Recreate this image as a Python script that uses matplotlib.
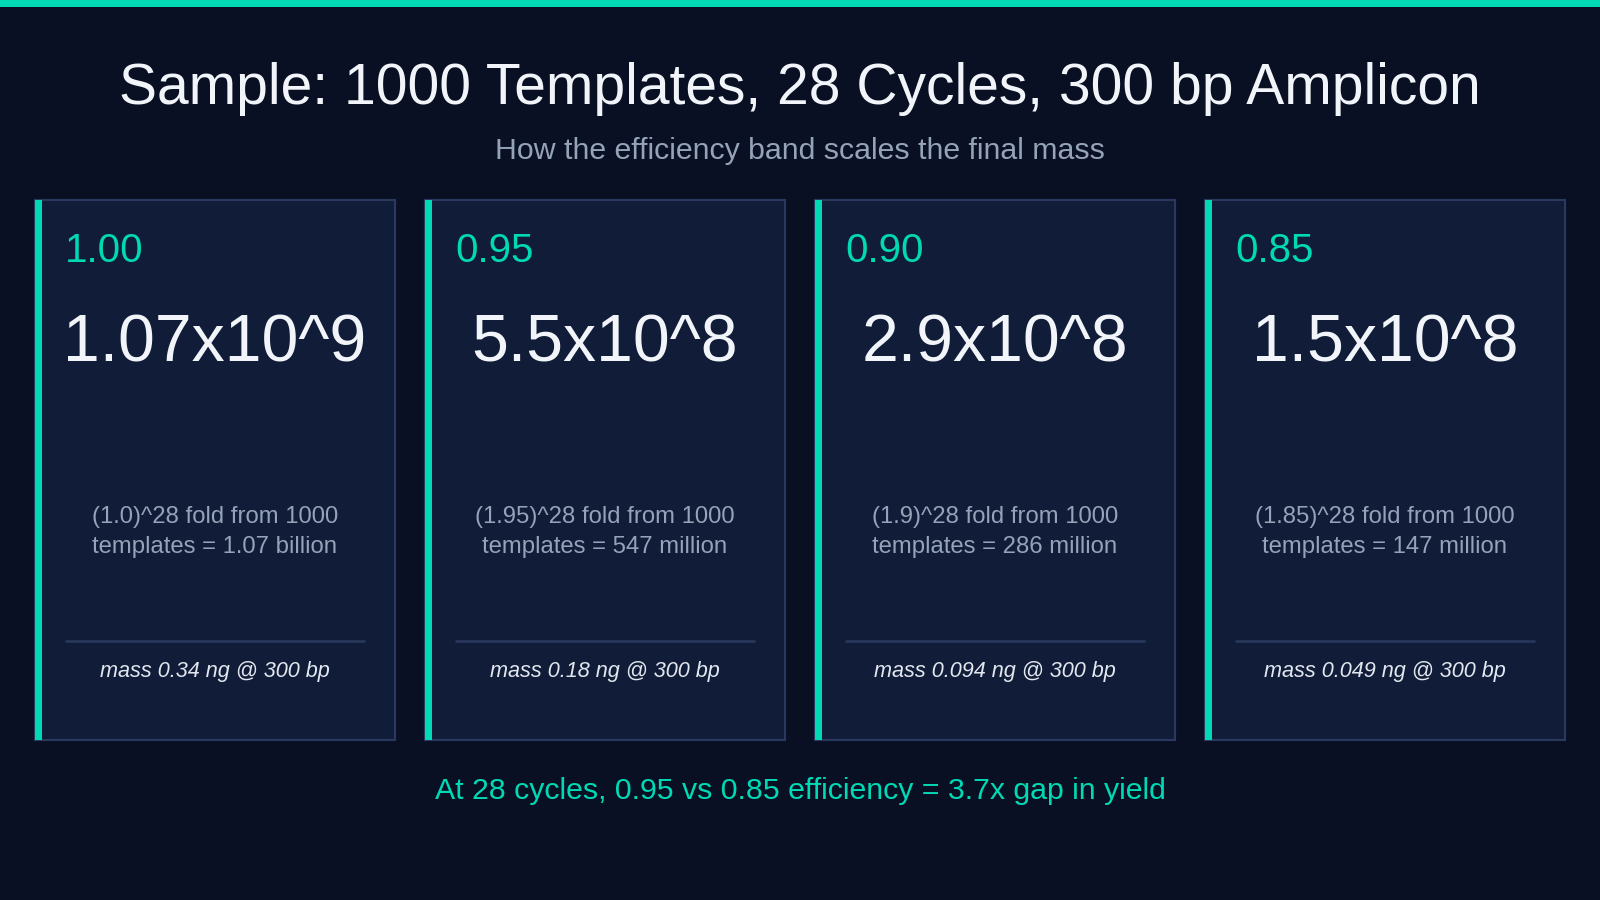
import matplotlib
matplotlib.use("Agg")
import matplotlib.pyplot as plt
from matplotlib.patches import Rectangle

# ---- data ----
efficiency = ["1.00", "0.95", "0.90", "0.85"]
copies = ["1.07x10^9", "5.5x10^8", "2.9x10^8", "1.5x10^8"]
fold_base = ["1.0", "1.95", "1.9", "1.85"]
yield_text = ["1.07 billion", "547 million", "286 million", "147 million"]
mass_ng = ["0.34", "0.18", "0.094", "0.049"]
templates = 1000
cycles = 28
amplicon_bp = 300

title = f"Sample: {templates} Templates, {cycles} Cycles, {amplicon_bp} bp Amplicon"
subtitle = "How the efficiency band scales the final mass"
footer = "At 28 cycles, 0.95 vs 0.85 efficiency = 3.7x gap in yield"

# ---- style ----
BG = "#0A1024"
TEAL = "#00DAB4"
CARD = "#111C38"
BORDER = "#2A3A5E"
WHITE = "#F1F5F9"
MUTED = "#94A3B8"
MASS = "#E2E8F0"
FONT = ["Liberation Sans", "DejaVu Sans"]

W, H = 1600, 900
fig = plt.figure(figsize=(16, 9), dpi=100, facecolor=BG)
ax = fig.add_axes([0, 0, 1, 1])
ax.set_xlim(0, W)
ax.set_ylim(H, 0)
ax.axis("off")
ax.set_facecolor(BG)

# top accent bar
ax.add_patch(Rectangle((0, 0), W, 6.5, facecolor=TEAL, edgecolor="none"))

ax.text(W / 2, 103.5, title, ha="center", va="baseline", fontsize=41,
        color=WHITE, family=FONT)
ax.text(W / 2, 159, subtitle, ha="center", va="baseline", fontsize=21.8,
        color=MUTED, family=FONT)

card_w, card_h, gap, left0, top = 360, 540, 30, 35, 200
for i in range(len(efficiency)):
    x0 = left0 + i * (card_w + gap)
    cx = x0 + card_w / 2
    ax.add_patch(Rectangle((x0, top), card_w, card_h, facecolor=CARD,
                           edgecolor=BORDER, linewidth=1.5))
    ax.add_patch(Rectangle((x0, top), 6.5, card_h, facecolor=TEAL,
                           edgecolor="none"))
    ax.text(x0 + 30, 262, efficiency[i], ha="left", va="baseline",
            fontsize=29, color=TEAL, family=FONT)
    ax.text(cx, 361.5, copies[i], ha="center", va="baseline",
            fontsize=47.6, color=WHITE, family=FONT)
    ax.text(cx, 523, f"({fold_base[i]})^{cycles} fold from {templates}",
            ha="center", va="baseline", fontsize=17.2, color=MUTED, family=FONT)
    ax.text(cx, 553, f"templates = {yield_text[i]}",
            ha="center", va="baseline", fontsize=17.2, color=MUTED, family=FONT)
    ax.plot([x0 + 30, x0 + card_w - 30], [641, 641], color=BORDER, lw=1.8,
            solid_capstyle="butt")
    ax.text(cx, 677, f"mass {mass_ng[i]} ng @ {amplicon_bp} bp",
            ha="center", va="baseline", fontsize=15.6, style="italic",
            color=MASS, family=FONT)

ax.text(W / 2, 799, footer, ha="center", va="baseline", fontsize=21.8,
        color=TEAL, family=FONT)

fig.savefig("out.png", dpi=100, facecolor=BG)
